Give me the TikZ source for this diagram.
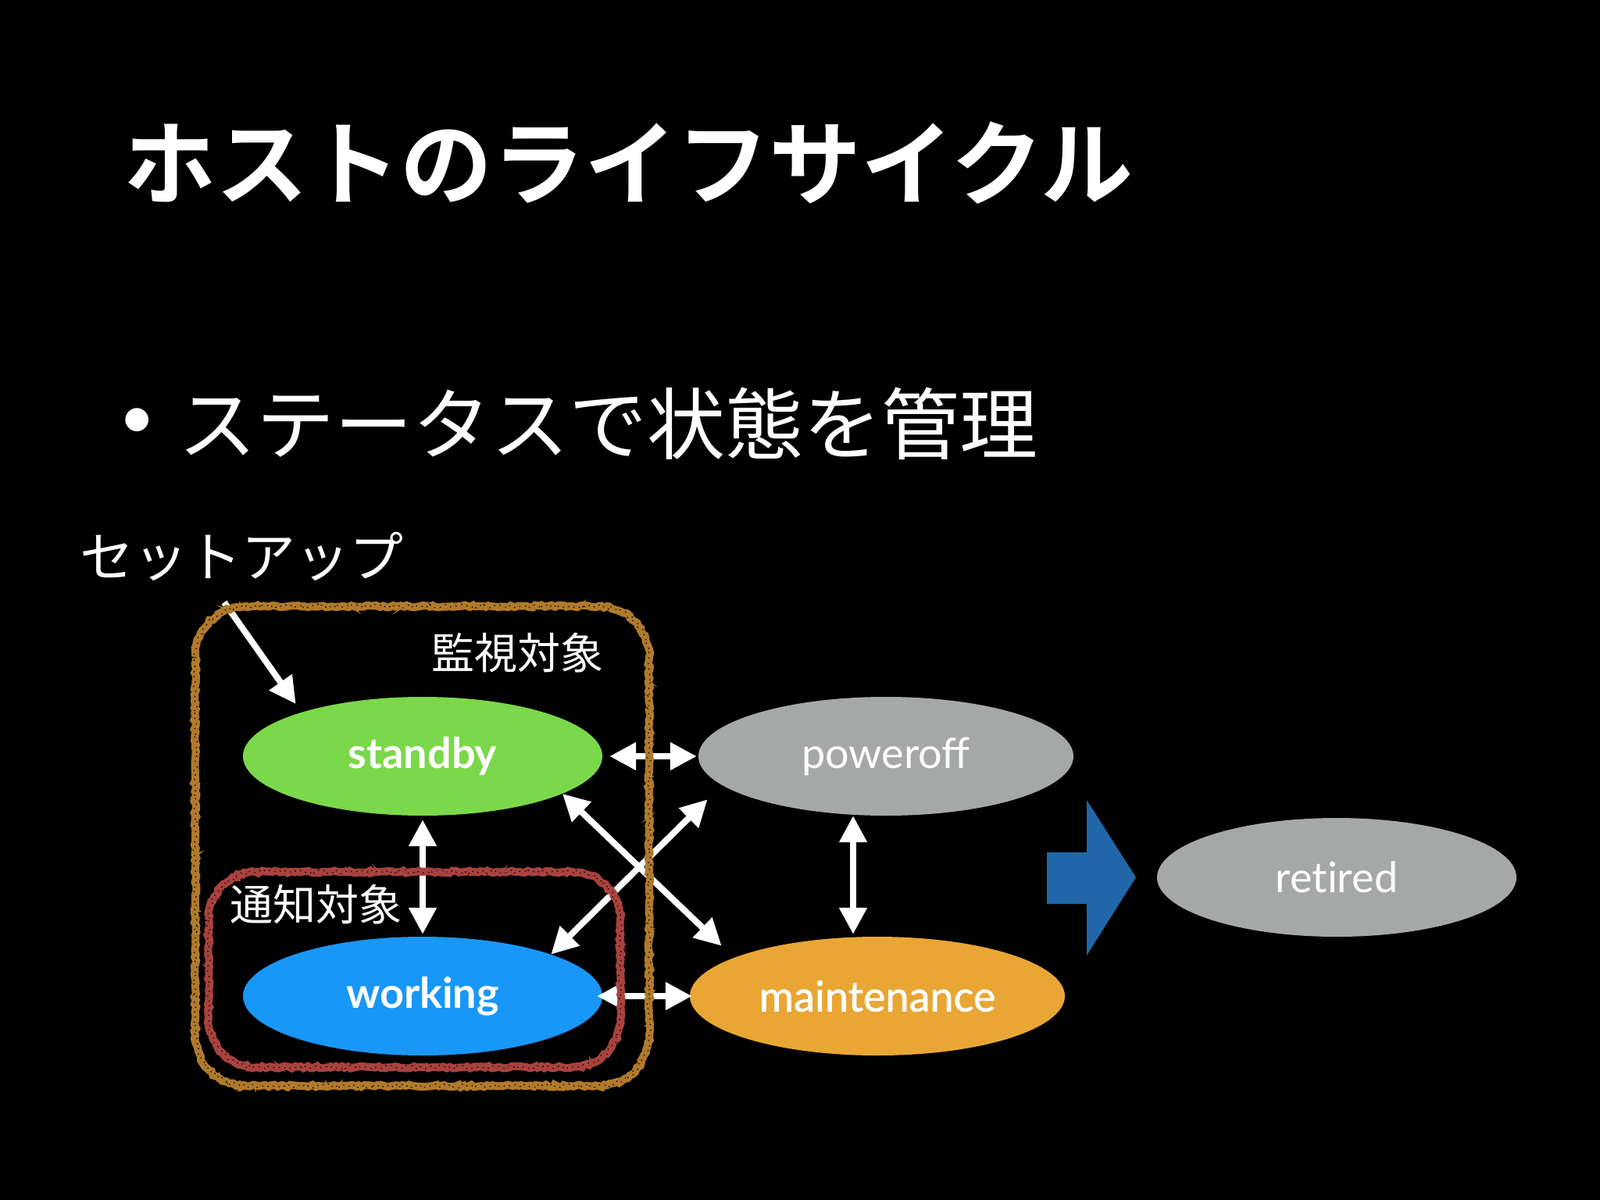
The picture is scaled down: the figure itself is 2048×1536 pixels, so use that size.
\documentclass[tikz,border=0pt]{standalone}
\usepackage{fontspec}
\usetikzlibrary{shapes.geometric,arrows.meta,decorations.pathmorphing,calc}
\newfontfamily\jpfont{Noto Sans CJK JP}[BoldFont={Noto Sans CJK JP Bold}]
\newfontfamily\latofont{Lato}
\newfontfamily\latonl{Lato}[Ligatures=NoCommon]
\newfontfamily\latomed{Lato}[FakeBold=1.2]
\definecolor{stgreen}{HTML}{7BD84A}
\definecolor{pogray}{HTML}{A6A8A8}
\definecolor{wkblue}{HTML}{1897F8}
\definecolor{mtorange}{HTML}{E9A634}
\definecolor{bluearrow}{HTML}{2066A8}
\definecolor{chalkbrown}{HTML}{B07A2C}
\definecolor{chalkred}{HTML}{A8423E}
\tikzset{
  state/.style={ellipse, inner sep=0pt, minimum height=152pt, text=white,
    font=\fontsize{54}{60}\selectfont\latofont},
  wline/.style={draw=white, line width=8pt},
  onearrow/.style={wline, -{Triangle[length=34pt,width=34pt]}},
  twoarrow/.style={wline, {Triangle[length=34pt,width=34pt]}-{Triangle[length=34pt,width=34pt]}},
  chalk/.style={line width=10pt, decoration={random steps, segment length=4pt, amplitude=1.5pt}},
  chalkthin/.style={line width=3pt, decoration={random steps, segment length=3pt, amplitude=3pt}},
  chalkgap/.style={draw=black, line width=1.2pt, dash pattern=on 1.5pt off 6pt, decoration={random steps, segment length=3pt, amplitude=2.5pt}},
  jplabel/.style={text=white, inner sep=0pt, anchor=west},
}
\begin{document}
\begin{tikzpicture}[x=1pt,y=-1pt]
\fill[black] (0,0) rectangle (2048,1536);
\useasboundingbox (0,0) rectangle (2048,1536);

% title and bullet
\node[jplabel, font=\fontsize{118}{130}\selectfont\jpfont\bfseries] (title) at (158,209) {ホストのライフサイクル};
\node[text=white, inner sep=0pt, font=\fontsize{80}{90}\selectfont\latofont] (bullet) at (176,542) {•};
\node[jplabel, font=\fontsize{100}{110}\selectfont\jpfont] (bullettext) at (228,542) {ステータスで状態を管理};

% labels
\node[jplabel, font=\fontsize{69}{76}\selectfont\jpfont] (setup) at (102,712) {セットアップ};
\node[jplabel, font=\fontsize{55}{62}\selectfont\jpfont] (monitor) at (552,836) {監視対象};
\node[jplabel, font=\fontsize{55}{62}\selectfont\jpfont] (notify) at (294,1158) {通知対象};

% states
\node[state, fill=stgreen, minimum width=460pt, font=\fontsize{54}{60}\selectfont\latofont\bfseries] (standby) at (541,968) {standby};
\node[state, fill=pogray, minimum width=480pt] (poweroff) at (1134,968) {poweroff};
\node[state, fill=wkblue, minimum width=460pt, font=\fontsize{54}{60}\selectfont\latofont\bfseries] (working) at (541,1275) {working};
\node[state, fill=mtorange, minimum width=480pt, font=\fontsize{54}{60}\selectfont\latomed] (maintenance) at (1123,1275) {maintenance};
\node[state, fill=pogray, minimum width=460pt, font=\fontsize{54}{60}\selectfont\latonl] (retired) at (1711,1123) {retired};

% blue block arrow
\fill[bluearrow] (1340,1091) -- (1391,1091) -- (1391,1024) -- (1454,1123) -- (1391,1223) -- (1391,1157) -- (1340,1157) -- cycle;

% connectors
\coordinate (setupstart) at (287,771);
\draw[onearrow, shorten >=13pt] (setupstart) -- (standby.160);
\draw[twoarrow, shorten <=9pt, shorten >=2pt] (standby) -- (poweroff);
\draw[twoarrow, shorten <=-7pt, shorten >=-3pt] (working) -- (maintenance);
\draw[twoarrow, shorten <=5pt, shorten >=3pt] (standby) -- (working);
\draw[twoarrow, shorten >=3pt] ([xshift=-42pt]poweroff.south) -- ([xshift=-31pt]maintenance.north);
\draw[twoarrow, shorten >=22pt] (standby.345) -- (maintenance.165.5);
\draw[twoarrow, shorten >=26pt] (working.18) -- (poweroff.190);

% chalk boxes
\draw[chalk, draw=chalkbrown] decorate {{[rounded corners=65pt] (250,776) rectangle (831,1390)}};
\draw[chalkthin, draw=chalkbrown] decorate {{[rounded corners=65pt] (250,776) rectangle (831,1390)}};
\draw[chalkgap] decorate {{[rounded corners=65pt] (250,776) rectangle (831,1390)}};
\draw[chalk, draw=chalkred] decorate {{[rounded corners=62pt] (267,1116) rectangle (794,1366)}};
\draw[chalkthin, draw=chalkred] decorate {{[rounded corners=62pt] (267,1116) rectangle (794,1366)}};
\draw[chalkgap] decorate {{[rounded corners=62pt] (267,1116) rectangle (794,1366)}};
\end{tikzpicture}
\end{document}
